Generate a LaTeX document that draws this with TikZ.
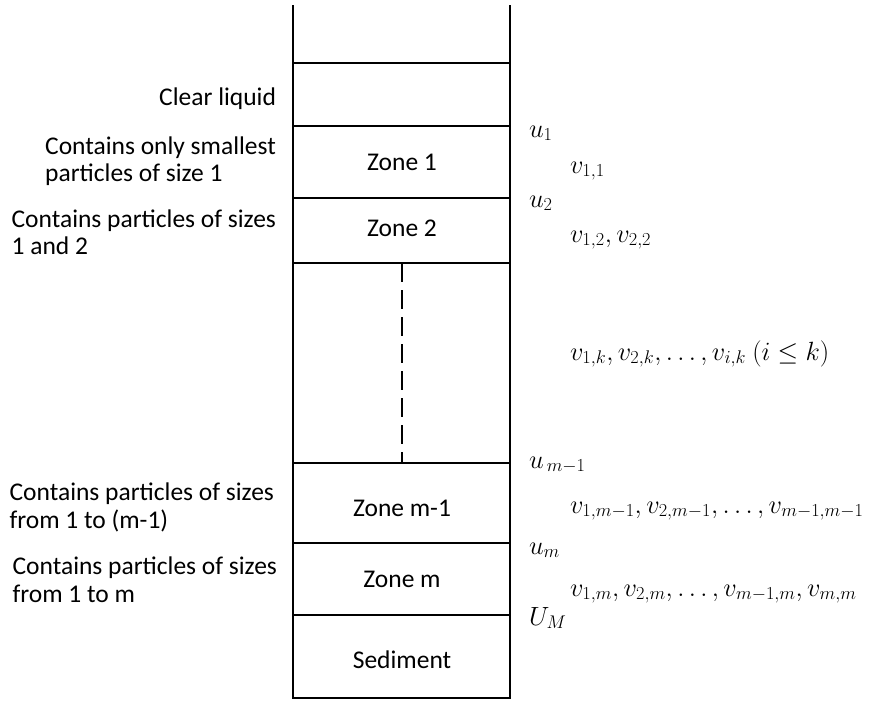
\documentclass[tikz,border=0pt]{standalone}
\usepackage{amsmath, amssymb}
\usepackage[no-math]{fontspec}
\setmainfont{Carlito}
\usepackage{tikz}
\usetikzlibrary{calc}
\newcommand{\colfont}{\fontsize{25.5}{27.5}\selectfont}
\newcommand{\rate}[1]{\scalebox{1.06}{$#1$}}

\begin{document}
\begin{tikzpicture}[x=1pt, y=-1pt, font=\colfont, line width=2pt,
    zonelabel/.style={anchor=base, inner sep=0pt},
    sidelabel/.style={align=left, anchor=base east, inner sep=0pt},
    ratelabel/.style={anchor=base west, inner sep=0pt}]
        \useasboundingbox (0,0) rectangle (870,702);

        % Column walls
        \coordinate (wallTL) at (293,5);
        \coordinate (wallTR) at (510,5);
        \coordinate (wallBL) at (293,698);
        \coordinate (wallBR) at (510,698);
        \draw[line join=miter] (wallTL)--(wallBL)--(wallBR)--(wallTR);

        % Zone boundaries
        \foreach \y in {63,126,198,263,463,543,615}{
          \draw (293,\y)--(510,\y);
        }

        % Skipped zones
        \coordinate (skipT) at (402,263);
        \coordinate (skipB) at (402,463);
        \draw[dash pattern=on 19pt off 8pt] (skipT)--(skipB);

        % Zone names
        \node[zonelabel] (zone1) at (402,170.5) {Zone 1};
        \node[zonelabel] (zone2) at (402,236.5) {Zone 2};
        \node[zonelabel] (zonemm) at (402,516.5) {Zone m-1};
        \node[zonelabel] (zonem) at (402,587) {Zone m};
        \node[zonelabel] (sediment) at (402,668) {Sediment};

        % Contents of each zone (left), anchored at the last line
        \node[sidelabel] (clear) at (277,105) {Clear liquid};
        \node[sidelabel] (small) at (277,181.5) {Contains only smallest\\particles of size 1};
        \node[sidelabel] (sizes2) at (277,254.5) {Contains particles of sizes\\1 and 2};
        \node[sidelabel] (sizesmm) at (275,528) {Contains particles of sizes\\from 1 to (m-1)};
        \node[sidelabel] (sizesm) at (278,602) {Contains particles of sizes\\from 1 to m};

        % Interface and particle velocities (right)
        \node[ratelabel] (u1) at (528,137) {\rate{u_1}};
        \node[ratelabel] (v11) at (569,173) {\rate{v_{1,1}}};
        \node[ratelabel] (u2) at (528,207) {\rate{u_2}};
        \node[ratelabel] (v22) at (569,242) {\rate{v_{1,2}, v_{2,2}}};
        \node[ratelabel] (vkk) at (569,360) {\rate{v_{1,k}, v_{2,k}, \dots, v_{i,k}\ (i \le k)}};
        \node[ratelabel] (umm) at (528,468) {\rate{u_{\,m-1}}};
        \node[ratelabel] (vmm) at (569,513) {\rate{v_{1,m-1}, v_{2,m-1}, \dots, v_{m-1,m-1}}};
        \node[ratelabel] (um) at (528,554) {\rate{u_m}};
        \node[ratelabel] (vm) at (569,596) {\rate{v_{1,m}, v_{2,m}, \dots, v_{m-1,m}, v_{m,m}}};
        \node[ratelabel] (UM) at (528,625) {\rate{U_M}};
      \end{tikzpicture}
\end{document}
